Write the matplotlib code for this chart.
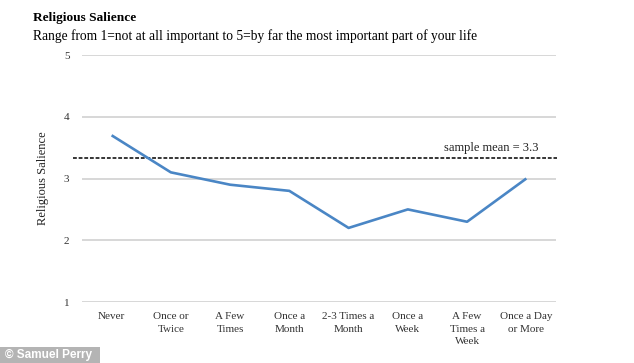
import matplotlib.pyplot as plt
from matplotlib.patches import Rectangle

# Chart data
categories = ["Never", "Once or\nTwice", "A Few\nTimes", "Once a\nMonth",
              "2-3 Times a\nMonth", "Once a\nWeek", "A Few\nTimes a\nWeek",
              "Once a Day\nor More"]
salience = [3.7, 3.1, 2.9, 2.8, 2.2, 2.5, 2.3, 3.0]
sample_mean = 3.34
y_ticks = [1, 2, 3, 4, 5]

plt.rcParams['font.family'] = ['Liberation Serif', 'DejaVu Serif']

fig = plt.figure(figsize=(6.34, 3.63), dpi=100)
ax = fig.add_axes([0.1293, 0.168, 0.7476, 0.6804])

x = list(range(len(categories)))

# gridlines
for t in y_ticks:
    ax.axhline(t, color='#d4d4d4', lw=1.3, zorder=1)

# mean line (extends slightly left of the plot area)
ax.plot([-0.65, 7.52], [sample_mean, sample_mean], color='black', lw=1.1,
        ls=(0, (2.5, 1.2)), clip_on=False, zorder=2)
ax.text(7.2, sample_mean + 0.05, "sample mean = 3.3", ha='right', va='bottom',
        fontsize=9, color='#222222')

ax.plot(x, salience, color='#4a86c5', lw=1.9, solid_capstyle='butt', zorder=3)

ax.set_xlim(-0.5, 7.5)
ax.set_ylim(1, 5)
ax.set_yticks(y_ticks)
ax.set_xticks(x)
ax.set_xticklabels(categories, fontsize=8, color='#333333', linespacing=1.55)
ax.set_yticklabels([str(t) for t in y_ticks], fontsize=8, color='#333333')
ax.tick_params(length=0)
ax.tick_params(axis='x', pad=7)
ax.tick_params(axis='y', pad=9)
for s in ax.spines.values():
    s.set_visible(False)

fig.text(43 / 634, 1 - 178 / 363, "Religious Salience", rotation=90,
         ha='center', va='center', fontsize=9, color='#222222')

# titles
fig.text(33 / 634, 1 - 18 / 363, "Religious Salience", fontsize=9.6,
         fontweight='bold', ha='left', va='center')
fig.text(33 / 634, 1 - 36 / 363,
         "Range from 1=not at all important to 5=by far the most important part of your life",
         fontsize=9.75, ha='left', va='center')

# watermark
fig.patches.append(Rectangle((0, 0), 100 / 634, 16 / 363, transform=fig.transFigure,
                             facecolor='#b4b4b4', edgecolor='none'))
fig.text(5 / 634, 8 / 363, "\u00a9 Samuel Perry", fontsize=8.5, color='white',
         fontweight='bold', family=['Liberation Sans', 'DejaVu Sans'],
         ha='left', va='center')

fig.savefig('out.png', dpi=100)
